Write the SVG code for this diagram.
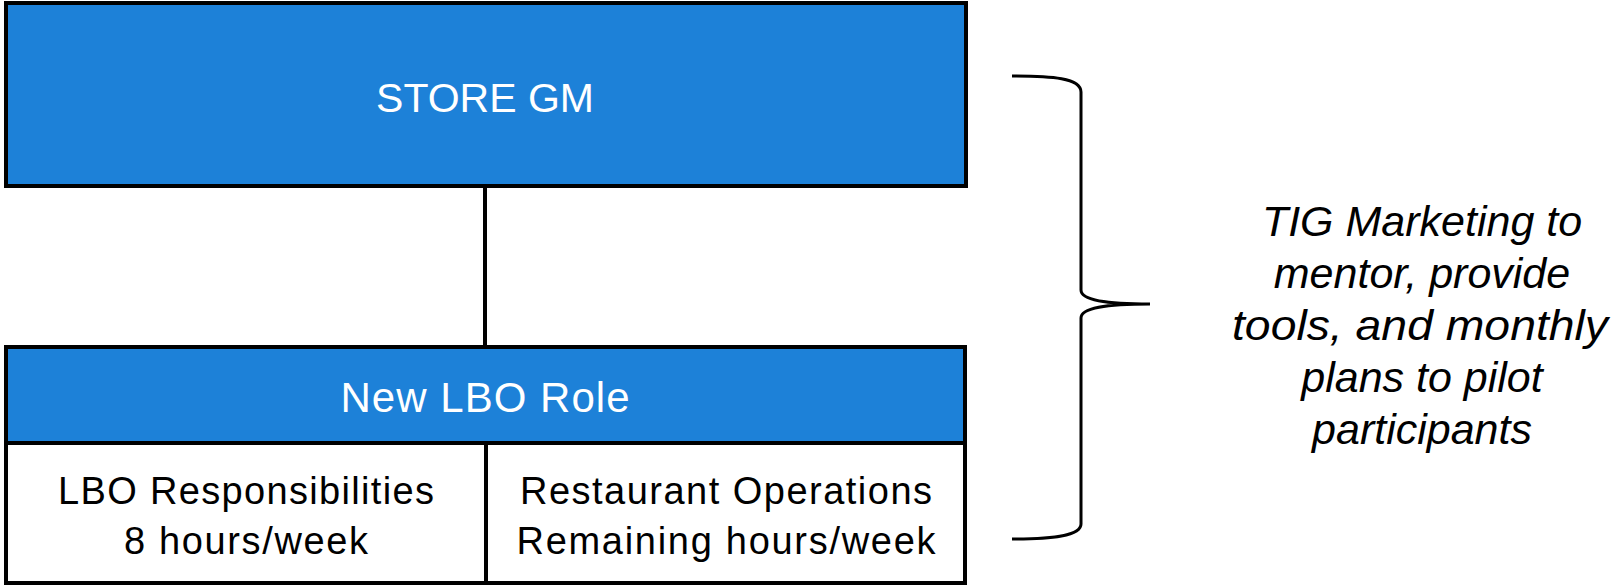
<svg xmlns="http://www.w3.org/2000/svg" width="1613" height="585" viewBox="0 0 1613 585">
<style>
.box{stroke:#000;stroke-width:4}
.blue{fill:#1D81D8}
.white{fill:#fff}
.tw{fill:#fff;font-family:"Liberation Sans",Arial,sans-serif;text-anchor:middle}
.tb{fill:#000;font-family:"Liberation Sans",Arial,sans-serif;text-anchor:middle;font-size:38px}
.ti{fill:#000;font-family:"Liberation Sans",Arial,sans-serif;font-style:italic;text-anchor:middle;font-size:43px}
.conn{stroke:#000;stroke-width:4;fill:none}
.brace{stroke:#000;stroke-width:3;fill:none}
</style>
<rect width="1613" height="585" fill="#fff"/>
<g id="connectors">
<line class="conn" x1="485" y1="186" x2="485" y2="347"/>
</g>
<g id="store-gm">
<rect class="box blue" x="6" y="3" width="960" height="183"/>
<text class="tw" x="485" y="112" font-size="41">STORE GM</text>
</g>
<g id="new-lbo-role">
<rect class="box blue" x="6" y="347" width="959" height="96"/>
<text class="tw" x="485" y="412" font-size="42" textLength="289" lengthAdjust="spacing">New LBO Role</text>
</g>
<g id="lbo-responsibilities">
<rect class="box white" x="6" y="443" width="480" height="140"/>
<text class="tb" x="246" y="504" textLength="376" lengthAdjust="spacing">LBO Responsibilities</text>
<text class="tb" x="246" y="554" textLength="244" lengthAdjust="spacing">8 hours/week</text>
</g>
<g id="restaurant-operations">
<rect class="box white" x="486" y="443" width="479" height="140"/>
<text class="tb" x="726" y="504" textLength="412" lengthAdjust="spacing">Restaurant Operations</text>
<text class="tb" x="726" y="554" textLength="419" lengthAdjust="spacing">Remaining hours/week</text>
</g>
<g id="brace">
<path class="brace" d="M1012,76 C1052,76 1081,78 1081,92 L1081,290 C1081,300 1105,304 1150,304 C1105,304 1081,308 1081,318 L1081,524 C1081,536 1052,539 1012,539"/>
</g>
<g id="note">
<text class="ti" x="1422" y="236">TIG Marketing to</text>
<text class="ti" x="1422" y="288">mentor, provide</text>
<text class="ti" x="1420" y="340" textLength="376" lengthAdjust="spacingAndGlyphs">tools, and monthly</text>
<text class="ti" x="1422" y="392">plans to pilot</text>
<text class="ti" x="1422" y="444">participants</text>
</g>
</svg>
